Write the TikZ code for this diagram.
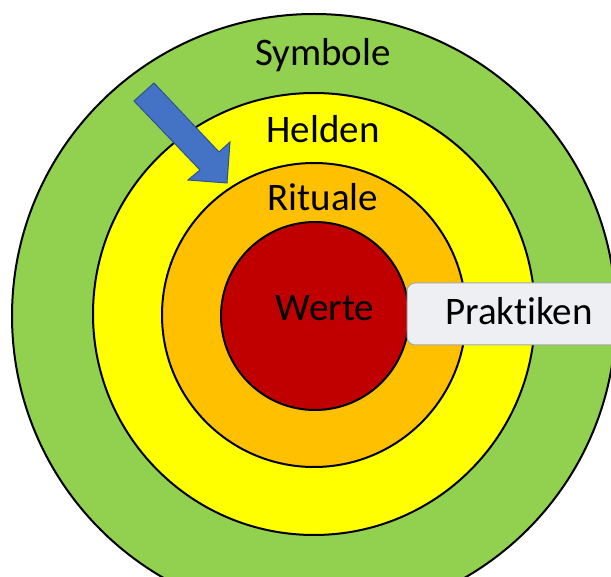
\documentclass[tikz,border=0pt]{standalone}
\usepackage{fontspec}
\setmainfont[RawFeature=-liga]{Carlito}
\usepackage{tikz}
\usetikzlibrary{positioning,calc}
\definecolor{symgreen}{HTML}{92D050}
\definecolor{heldyellow}{HTML}{FFFF00}
\definecolor{ritorange}{HTML}{FFC000}
\definecolor{wertred}{HTML}{C00000}
\definecolor{arrowblue}{HTML}{4472C4}
\definecolor{arrowline}{HTML}{2F528F}
\definecolor{boxgray}{HTML}{EDEFF3}
\tikzset{ring/.style={draw=black,line width=2pt},
	label/.style={font=\fontsize{39}{44}\selectfont,text=black,inner sep=0pt}}

\begin{document}
\begin{tikzpicture}[x=1pt,y=-1pt]
			\useasboundingbox (0,0) rectangle (611,577);
			\clip (0,0) rectangle (611,577);
			\fill[white] (0,0) rectangle (611,577);
%			rings from outside in
			\draw[ring,fill=symgreen] (314,316) circle (302);
			\draw[ring,fill=heldyellow] (314,314) circle (221);
			\draw[ring,fill=ritorange] (314,315) circle (152);
			\draw[ring,fill=wertred] (315,316) circle (94);
			\node[label] (symbole) at (323,55) {Symbole};
			\node[label] (helden) at (323,129) {Helden};
			\node[label] (rituale) at (323,197) {Rituale};
			\node[label] (werte) at (325,308) {Werte};
			
			\begin{scope}[line width=1pt]
			\draw[draw=arrowline,fill=arrowblue,line join=miter] (134,101) -- (154,83) -- (219,152) -- (230,142) -- (227,183) -- (188,180) -- (200,170) -- cycle;
			\end{scope}
			\node[draw=gray!70,fill=boxgray,rounded corners=8pt,line width=1pt,minimum width=224pt,minimum height=62pt] (praktiken) at (519,314) {};
			\node[label] (praktext) at (519,311) {Praktiken};
\end{tikzpicture}
\end{document}
